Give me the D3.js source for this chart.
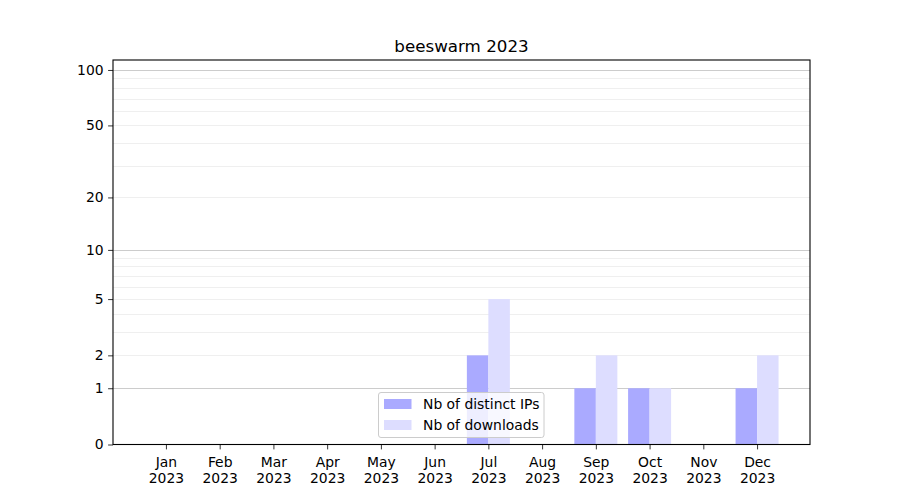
<!DOCTYPE html>
<html><head><meta charset="utf-8">
<script src="https://cdn.jsdelivr.net/npm/d3@7"></script>
<style>body{margin:0;background:#fff}text{font-family:"DejaVu Sans",sans-serif}</style>
</head><body><svg id="c" width="900" height="500"></svg>
<script>
const months = ["Jan","Feb","Mar","Apr","May","Jun","Jul","Aug","Sep","Oct","Nov","Dec"];
const year = "2023";
const distinctIPs = [0,0,0,0,0,0,2,0,1,1,0,1];
const downloads   = [0,0,0,0,0,0,5,0,2,1,0,2];
const yTicks = [0,1,2,5,10,20,50,100];
const yMajorGrid = [1,10,100];
const yMinorGrid = [2,3,4,5,6,7,8,9,20,30,40,50,60,70,80,90];
const title = "beeswarm 2023";
const seriesNames = ["Nb of distinct IPs","Nb of downloads"];
const seriesColors = ["#aaaaff","#ddddff"];

const svg = d3.select("#c");
const L=113, R=810, T=60, B=444.5;
const x = d3.scaleLinear().domain([-0.985, 11.985]).range([L,R]);
const y = d3.scaleSymlog().constant(1).domain([0,113.2]).range([B,T]);
const step = x(1)-x(0), bw = step*0.4;

// grid
svg.append("g").selectAll("line").data(yMinorGrid).join("line")
  .attr("x1",L).attr("x2",R).attr("y1",d=>Math.round(y(d))+0.5).attr("y2",d=>Math.round(y(d))+0.5)
  .attr("stroke","#ebebeb").attr("stroke-width",0.8);
svg.append("g").selectAll("line").data(yMajorGrid).join("line")
  .attr("x1",L).attr("x2",R).attr("y1",d=>Math.round(y(d))+0.5).attr("y2",d=>Math.round(y(d))+0.5)
  .attr("stroke","#cccccc").attr("stroke-width",1);

// bars
const series=[distinctIPs,downloads];
series.forEach((vals,si)=>{
  svg.append("g").selectAll("rect").data(vals.map((v,i)=>({v,i})).filter(d=>d.v>0)).join("rect")
    .attr("x",d=>x(d.i)-bw+si*bw).attr("width",bw)
    .attr("y",d=>y(d.v)).attr("height",d=>B-y(d.v))
    .attr("fill",seriesColors[si]);
});

// axes
const yAxis = d3.axisLeft(y).tickValues(yTicks).tickFormat(d3.format("d")).tickSize(4.9).tickPadding(4.5);
const gy = svg.append("g").attr("transform",`translate(${L},0)`).call(yAxis);
gy.select(".domain").remove();
gy.selectAll("text").attr("font-size","13.9px").attr("fill","#000").style("font-family","DejaVu Sans");
gy.selectAll("line").attr("stroke","#000").attr("stroke-width",0.8);

const xAxis = d3.axisBottom(x).tickValues(d3.range(12)).tickFormat(()=>"").tickSize(4.9);
const gx = svg.append("g").attr("transform",`translate(0,${B})`).call(xAxis);
gx.select(".domain").remove();
gx.selectAll("line").attr("stroke","#000").attr("stroke-width",0.8);
gx.selectAll(".tick").each(function(d){
  const t=d3.select(this).append("text").attr("fill","#000").attr("font-size","13.9px")
    .attr("text-anchor","middle").style("font-family","DejaVu Sans");
  t.append("tspan").attr("x",0).attr("y",22).text(months[d]);
  t.append("tspan").attr("x",0).attr("y",38).text(year);
});

// frame
svg.append("rect").attr("x",L).attr("y",T).attr("width",R-L).attr("height",B-T)
  .attr("fill","none").attr("stroke","#000").attr("stroke-width",1.1);

// title
svg.append("text").attr("x",(L+R)/2).attr("y",52).attr("text-anchor","middle")
  .attr("font-size","16.7px").attr("fill","#000").text(title);

// legend
const lg = svg.append("g").attr("transform","translate(378.5,392.5)");
lg.append("rect").attr("width",165.5).attr("height",45).attr("rx",2.5)
  .attr("fill","rgba(255,255,255,0.8)").attr("stroke","#cccccc").attr("stroke-width",1);
seriesNames.forEach((n,i)=>{
  lg.append("rect").attr("x",5.5).attr("y",6.5+i*21).attr("width",27.5).attr("height",10).attr("fill",seriesColors[i]);
  lg.append("text").attr("x",44.5).attr("y",16.5+i*21).attr("font-size","13.9px").attr("fill","#000").text(n);
});
</script></body></html>
